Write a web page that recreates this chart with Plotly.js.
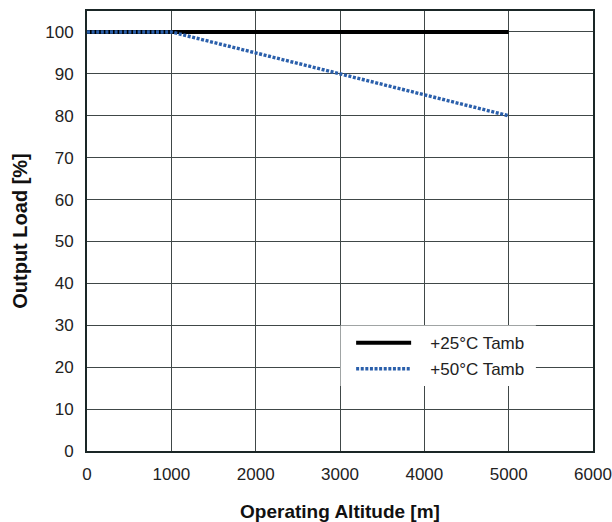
<!DOCTYPE html>
<html><head><meta charset="utf-8">
<script src="https://cdn.plot.ly/plotly-3.0.1.min.js"></script>
<style>body{margin:0;background:#fff}#c{width:612px;height:522px}</style>
</head><body><div id="c"></div>
<script>
const altitude25 = [0, 5000];
const load25 = [100, 100];
const altitude50 = [0, 1000, 5000];
const load50 = [100, 100, 80];
const names = ['+25°C Tamb', '+50°C Tamb'];
const xTicks = [0, 1000, 2000, 3000, 4000, 5000, 6000];
const yTicks = [0, 10, 20, 30, 40, 50, 60, 70, 80, 90, 100];

const FONT = '"Liberation Sans", Arial, Helvetica, sans-serif';
const PAD = '\u00a0\u00a0\u00a0';

const traces = [
  {x: altitude25, y: load25, name: PAD + names[0], legendgroup: 'a', mode: 'lines', type: 'scatter',
   line: {color: '#000000', width: 4}},
  {x: altitude50, y: load50, name: PAD + names[1], legendgroup: 'b', mode: 'lines', type: 'scatter',
   line: {color: '#2a5fab', width: 3.4, dash: '3px,1.6px'}}
];

const layout = {
  width: 612, height: 522,
  margin: {l: 87, r: 19, t: 11, b: 71},
  paper_bgcolor: '#fff', plot_bgcolor: '#fff',
  font: {family: FONT, size: 17, color: '#222'},
  showlegend: true,
  legend: {x: 0.522, y: 0.286, xanchor: 'left', yanchor: 'top', bgcolor: 'rgba(0,0,0,0)',
    borderwidth: 0, font: {family: FONT, size: 17, color: '#222'}, itemwidth: 55,
    traceorder: 'grouped', tracegroupgap: 1},
  shapes: [{type: 'rect', xref: 'paper', yref: 'paper', layer: 'above',
    x0: (340 - 87) / 505, x1: (535 - 87) / 505, y0: (451 - 386) / 440, y1: (451 - 325.5) / 440,
    fillcolor: '#fff', line: {width: 0}}],
  xaxis: {range: [0, 6000], tickvals: xTicks, ticktext: xTicks.map(String),
    showgrid: true, gridcolor: '#404848', gridwidth: 1, zeroline: false,
    showline: true, linecolor: '#1a2626', linewidth: 2, mirror: true,
    ticks: '', ticklen: 0, ticklabelstandoff: 7, tickfont: {family: FONT, size: 17, color: '#222'},
    title: {text: '<b>Operating Altitude [m]</b>', font: {family: FONT, size: 19, color: '#111'}, standoff: 24}},
  yaxis: {range: [0, 105], tickvals: yTicks, ticktext: yTicks.map(String),
    showgrid: true, gridcolor: '#404848', gridwidth: 1, zeroline: false,
    showline: true, linecolor: '#1a2626', linewidth: 2, mirror: true,
    ticks: '', ticklen: 0, ticklabelstandoff: 8, tickfont: {family: FONT, size: 17, color: '#222'},
    title: {text: '<b>Output Load [%]</b>', font: {family: FONT, size: 20, color: '#111'}, standoff: 12}}
};

Plotly.newPlot('c', traces, layout, {displayModeBar: false, staticPlot: true});
</script></body></html>
